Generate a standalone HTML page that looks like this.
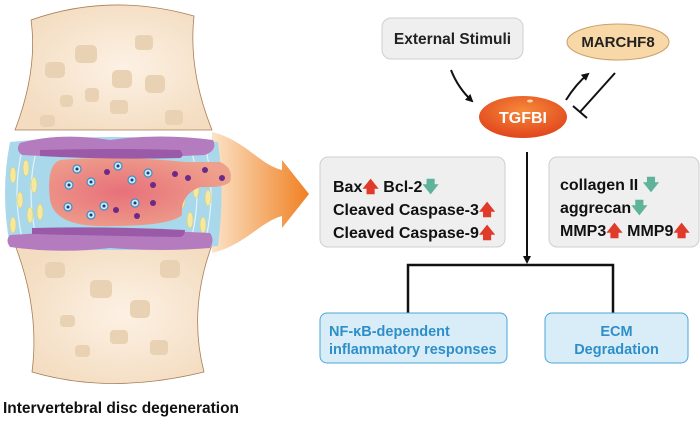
<!DOCTYPE html>
<html><head><meta charset="utf-8"><style>
body{margin:0;background:#fff;}
svg text{font-family:"Liberation Sans",Arial,sans-serif;font-weight:bold;}
</style></head><body>
<svg width="700" height="417" viewBox="0 0 700 417" xmlns="http://www.w3.org/2000/svg">
<defs>
<radialGradient id="bone" cx="0.55" cy="0.5" r="0.6"><stop offset="0" stop-color="#fdf1e4"/><stop offset="1" stop-color="#f3dcc0"/></radialGradient>
<radialGradient id="nuc" cx="0.4" cy="0.5" r="0.6"><stop offset="0" stop-color="#e8707a"/><stop offset="1" stop-color="#eea08c"/></radialGradient>
<linearGradient id="arr" x1="0" x2="1"><stop offset="0" stop-color="#fbe3c7"/><stop offset="1" stop-color="#f08022"/></linearGradient>
<radialGradient id="tg" cx="0.5" cy="0.35" r="0.7"><stop offset="0" stop-color="#f58a3a"/><stop offset="1" stop-color="#e0401a"/></radialGradient>
<marker id="ah" markerWidth="8" markerHeight="8" refX="6" refY="4" orient="auto" markerUnits="userSpaceOnUse"><path d="M0,0 L8,4 L0,8 z" fill="#111"/></marker>
</defs>
<path d="M212,132 C245,140 260,165 282,170 L282,160 L309,194 L282,228 L282,216 C260,222 245,245 212,253 z" fill="url(#arr)"/>
<path d="M31,20 Q110,-8 194,16 Q188,70 212,130 L15,130 Q38,70 31,20 z" fill="url(#bone)" stroke="#a87d55" stroke-width="0.8"/>
<path d="M15,245 L212,245 Q188,310 204,372 Q110,395 32,372 Q40,310 15,245 z" fill="url(#bone)" stroke="#a87d55" stroke-width="0.8"/>
<g fill="#e9d2b4">
<rect x="45" y="62" width="20" height="16" rx="5"/><rect x="75" y="45" width="22" height="18" rx="5"/><rect x="112" y="70" width="20" height="18" rx="5"/><rect x="145" y="75" width="20" height="18" rx="5"/><rect x="40" y="115" width="15" height="12" rx="4"/><rect x="85" y="88" width="14" height="14" rx="4"/><rect x="135" y="35" width="18" height="15" rx="4"/><rect x="60" y="95" width="13" height="12" rx="4"/><rect x="110" y="100" width="18" height="14" rx="4"/><rect x="165" y="110" width="18" height="15" rx="4"/>
<rect x="45" y="262" width="20" height="16" rx="5"/><rect x="90" y="280" width="22" height="18" rx="5"/><rect x="130" y="300" width="20" height="18" rx="5"/><rect x="160" y="260" width="20" height="18" rx="5"/><rect x="60" y="315" width="15" height="12" rx="4"/><rect x="110" y="330" width="18" height="14" rx="4"/><rect x="150" y="340" width="18" height="15" rx="4"/><rect x="75" y="345" width="15" height="12" rx="4"/>
</g>
<path d="M10,142 Q110,132 218,142 Q225,193 218,246 Q110,254 10,246 Q0,193 10,142 z" fill="#a8d8ea"/>
<g fill="none" stroke="#e3f4fb" stroke-width="1.2">
<path d="M22,150 Q12,193 22,238"/><path d="M36,152 Q26,193 36,236"/><path d="M206,150 Q216,193 206,238"/><path d="M192,152 Q202,193 192,236"/>
</g>
<g fill="#f5e9a0" stroke="#e0c860" stroke-width="0.5">
<ellipse cx="13" cy="175" rx="3" ry="8"/><ellipse cx="26" cy="168" rx="3" ry="8"/><ellipse cx="20" cy="200" rx="3" ry="8"/><ellipse cx="13" cy="225" rx="3" ry="8"/><ellipse cx="34" cy="185" rx="3" ry="8"/><ellipse cx="30" cy="215" rx="3" ry="8"/><ellipse cx="40" cy="212" rx="3" ry="8"/>
<ellipse cx="182" cy="200" rx="3" ry="8"/><ellipse cx="196" cy="190" rx="3" ry="8"/><ellipse cx="208" cy="198" rx="3" ry="8"/><ellipse cx="190" cy="220" rx="3" ry="8"/><ellipse cx="203" cy="225" rx="3" ry="8"/>
</g>
<path d="M60,160 Q120,155 185,162 L220,162 Q234,168 230,182 Q224,188 200,187 Q180,195 182,215 Q170,226 110,226 Q55,228 50,200 Q46,165 60,160 z" fill="url(#nuc)"/>
<g fill="#cfe9f7" stroke="#3a8fc8" stroke-width="1.2">
<circle cx="77" cy="169" r="4"/><circle cx="118" cy="166" r="4"/><circle cx="148" cy="173" r="4"/><circle cx="69" cy="185" r="4"/><circle cx="91" cy="182" r="4"/><circle cx="132" cy="180" r="4"/><circle cx="68" cy="207" r="4"/><circle cx="104" cy="206" r="4"/><circle cx="135" cy="203" r="4"/><circle cx="91" cy="215" r="4"/>
</g>
<g fill="#1a3f70"><circle cx="77" cy="169" r="1.5"/><circle cx="118" cy="166" r="1.5"/><circle cx="148" cy="173" r="1.5"/><circle cx="69" cy="185" r="1.5"/><circle cx="91" cy="182" r="1.5"/><circle cx="132" cy="180" r="1.5"/><circle cx="68" cy="207" r="1.5"/><circle cx="104" cy="206" r="1.5"/><circle cx="135" cy="203" r="1.5"/><circle cx="91" cy="215" r="1.5"/></g>
<g fill="#6a2a86"><circle cx="107" cy="172" r="3"/><circle cx="153" cy="185" r="3"/><circle cx="153" cy="203" r="3"/><circle cx="116" cy="210" r="3"/><circle cx="137" cy="216" r="3"/><circle cx="175" cy="174" r="3"/><circle cx="188" cy="178" r="3"/><circle cx="205" cy="170" r="3"/><circle cx="222" cy="178" r="3"/></g>
<path d="M20,143 Q60,132 110,140 Q160,133 213,140 Q218,150 205,155 Q110,160 22,155 Q15,150 20,143 z" fill="#b57bbf"/>
<path d="M40,150 Q110,148 180,150 Q185,156 180,158 Q110,160 40,156 z" fill="#9a5aa8"/>
<path d="M10,235 Q110,228 210,233 Q215,240 210,248 Q160,252 110,248 Q60,254 10,247 Q5,240 10,235 z" fill="#b57bbf"/>
<path d="M32,228 Q110,226 185,230 Q185,236 180,237 Q110,236 32,234 z" fill="#9a5aa8"/>
<text x="3" y="413" font-size="15.5" fill="#111">Intervertebral disc degeneration</text>

<rect x="382" y="18" width="141" height="41" rx="9" fill="#efefef" stroke="#cfcfcf"/>
<text x="452.5" y="44" font-size="15.5" text-anchor="middle" fill="#222">External Stimuli</text>
<ellipse cx="618" cy="42" rx="51" ry="18" fill="#f9d8a8" stroke="#c9a070"/>
<text x="618" y="47" font-size="15" text-anchor="middle" fill="#222">MARCHF8</text>
<ellipse cx="523" cy="117" rx="44" ry="21" fill="url(#tg)"/>
<ellipse cx="530" cy="101" rx="3" ry="1.5" fill="#ffd2b0"/>
<text x="523" y="123" font-size="16" text-anchor="middle" fill="#fff">TGFBI</text>
<path d="M451,70 Q458,88 472,101" fill="none" stroke="#111" stroke-width="2" marker-end="url(#ah)"/>
<path d="M566,100 Q576,84 588,74" fill="none" stroke="#111" stroke-width="2" marker-end="url(#ah)"/>
<path d="M615,73 L580,112" stroke="#111" stroke-width="2"/>
<path d="M573,106 L587,118" stroke="#111" stroke-width="2"/>

<rect x="320" y="157" width="185" height="90" rx="8" fill="#efefef" stroke="#cfcfcf"/>
<text x="333" y="192" font-size="16" fill="#111">Bax<tspan fill="#e03a2a">🡅</tspan> Bcl-2<tspan fill="#5fb39a">🡇</tspan></text>
<text x="333" y="215" font-size="16" fill="#111">Cleaved Caspase-3<tspan fill="#e03a2a">🡅</tspan></text>
<text x="333" y="238" font-size="16" fill="#111">Cleaved Caspase-9<tspan fill="#e03a2a">🡅</tspan></text>
<rect x="549" y="157" width="150" height="90" rx="8" fill="#efefef" stroke="#cfcfcf"/>
<text x="560" y="190" font-size="16" fill="#111">collagen II <tspan fill="#5fb39a">🡇</tspan></text>
<text x="560" y="213" font-size="16" fill="#111">aggrecan<tspan fill="#5fb39a">🡇</tspan></text>
<text x="560" y="236" font-size="16" fill="#111">MMP3<tspan fill="#e03a2a">🡅</tspan> MMP9<tspan fill="#e03a2a">🡅</tspan></text>

<line x1="527" y1="152" x2="527" y2="262" stroke="#111" stroke-width="2" marker-end="url(#ah)"/>
<path d="M408,313 L408,265 L613,265 L613,313" fill="none" stroke="#111" stroke-width="2.5"/>
<rect x="320" y="313" width="187" height="50" rx="7" fill="#d8edf8" stroke="#4aa6d6"/>
<text x="329" y="336" font-size="14.5" fill="#2e8fc8">NF-κB-dependent</text>
<text x="329" y="354" font-size="14.5" fill="#2e8fc8">inflammatory responses</text>
<rect x="545" y="313" width="143" height="50" rx="7" fill="#d8edf8" stroke="#4aa6d6"/>
<text x="616.5" y="336" font-size="14.5" text-anchor="middle" fill="#2e8fc8">ECM</text>
<text x="616.5" y="354" font-size="14.5" text-anchor="middle" fill="#2e8fc8">Degradation</text>
</svg>
</body></html>
